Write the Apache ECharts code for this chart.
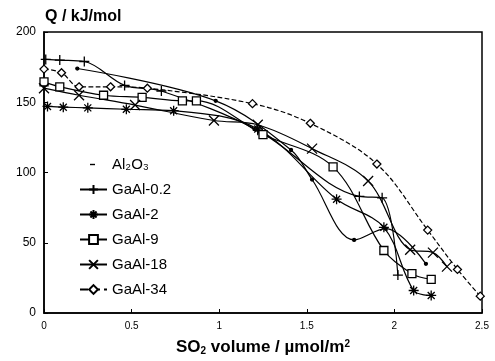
<!DOCTYPE html>
<html><head><meta charset="utf-8">
<script src="https://cdn.jsdelivr.net/npm/echarts@6/dist/echarts.min.js"></script>
<style>html,body{margin:0;padding:0;background:#fff}#c{width:495px;height:361px}</style>
</head><body><div id="c"></div>
<script>
const seriesNames = ['Al\u2082O\u2083','GaAl-0.2','GaAl-2','GaAl-9','GaAl-18','GaAl-34'];
const al2o3 = [[0.19,174],[0.98,151],[1.41,116],[1.53,95],[1.77,52],[1.95,60],[2.18,35]];
const gaal02 = [[0.01,180.5],[0.09,180],[0.23,179],[0.46,162],[0.67,158],[1.22,130],[1.8,83],[1.93,82],[2.02,27]];
const gaal2 = [[0.02,147],[0.11,146.5],[0.25,146],[0.47,145],[0.74,144],[1.22,131],[1.67,81],[1.94,61],[2.11,16],[2.21,12.5]];
const gaal9 = [[0,164.5],[0.09,161],[0.34,155],[0.56,153.5],[0.79,151],[0.87,151],[1.25,127],[1.65,104],[1.94,44.5],[2.1,28],[2.21,24]];
const gaal18 = [[0,160],[0.2,155],[0.52,148],[0.97,137],[1.22,134],[1.53,117],[1.85,94],[2.09,45],[2.22,43],[2.3,33]];
const gaal34 = [[0,173.6],[0.1,171],[0.2,161],[0.38,161],[0.59,160],[1.19,149],[1.52,135],[1.9,106],[2.19,59],[2.36,31],[2.49,12]];
const xTicks = ['0','0.5','1','1.5','2','2.5'];
const yTicks = ['0','50','100','150','200'];

const sym = {
  plus: 'path://M5,0L5,10M0,5L10,5',
  star: 'path://M5,0L5,10M0,5L10,5M1.5,1.5L8.5,8.5M8.5,1.5L1.5,8.5',
  cross: 'path://M0,0L10,10M10,0L0,10'
};
const dataSets = [al2o3, gaal02, gaal2, gaal9, gaal18, gaal34];
const symbols = ['circle', sym.plus, sym.star, 'rect', sym.cross, 'diamond'];
const sizes = [3, 10, 10, 8, 10, 8];
const fills = ['#000', '#000', '#000', '#fff', '#000', '#fff'];
const lineTypes = ['solid','solid','solid','solid','solid','dashed'];

const series = dataSets.map((d, i) => ({
  name: seriesNames[i],
  type: 'line',
  data: d,
  smooth: 0.35,
  symbol: symbols[i],
  symbolSize: sizes[i],
  showAllSymbol: true,
  lineStyle: {color: '#000', width: 1.2, type: lineTypes[i]},
  itemStyle: {color: fills[i], borderColor: '#000', borderWidth: 1.3},
  emphasis: {disabled: true},
  z: 3
}));

const legendData = seriesNames.map((n, i) => i === 0
  ? {name: n, icon: 'path://M0,0M27,10M10,4.3L15,4.3L15,5.7L10,5.7Z', itemStyle: {color: '#000', borderWidth: 0}}
  : {name: n});

const chart = echarts.init(document.getElementById('c'), null, {renderer: 'canvas'});
chart.setOption({
  animation: false,
  backgroundColor: '#fff',
  textStyle: {fontFamily: 'Liberation Sans, Arial, sans-serif'},
  grid: {left: 44, right: 13, top: 32, bottom: 41, show: true, borderColor: '#000', borderWidth: 1.5},
  title: {text: 'Q / kJ/mol', left: 40, top: 4, textStyle: {fontSize: 16, fontWeight: 'bold', color: '#000', fontFamily: 'Liberation Sans, Arial'}},
  legend: {
    orient: 'vertical', left: 74, top: 152, itemGap: 10, itemWidth: 27, itemHeight: 11,
    textStyle: {fontSize: 15, color: '#000', fontFamily: 'Liberation Sans, Arial'},
    data: legendData
  },
  xAxis: {
    type: 'value', min: 0, max: 2.5, interval: 0.5,
    axisLine: {show: true, lineStyle: {color: '#000', width: 1.5}},
    axisTick: {show: true, inside: true, length: 4, lineStyle: {color: '#000'}},
    splitLine: {show: false},
    axisLabel: {color: '#000', fontSize: 10, margin: 8, formatter: v => xTicks[Math.round(v / 0.5)]},
    name: '{a|SO}{s|2}{a| volume / \u00b5mol/m}{p|2}',
    nameLocation: 'middle', nameGap: 26,
    nameTextStyle: {rich: {
      a: {fontSize: 17, fontWeight: 'bold', color: '#000'},
      s: {fontSize: 10, fontWeight: 'bold', color: '#000', verticalAlign: 'bottom', padding: [7,0,0,0]},
      p: {fontSize: 10, fontWeight: 'bold', color: '#000', verticalAlign: 'top', padding: [0,0,7,0]}
    }}
  },
  yAxis: {
    type: 'value', min: 0, max: 200, interval: 50,
    axisLine: {show: true, lineStyle: {color: '#000', width: 1.5}},
    axisTick: {show: true, inside: true, length: 4, lineStyle: {color: '#000'}},
    splitLine: {show: false},
    axisLabel: {color: '#000', fontSize: 12, margin: 8, formatter: v => yTicks[Math.round(v / 50)]}
  },
  series: series
});
</script></body></html>
